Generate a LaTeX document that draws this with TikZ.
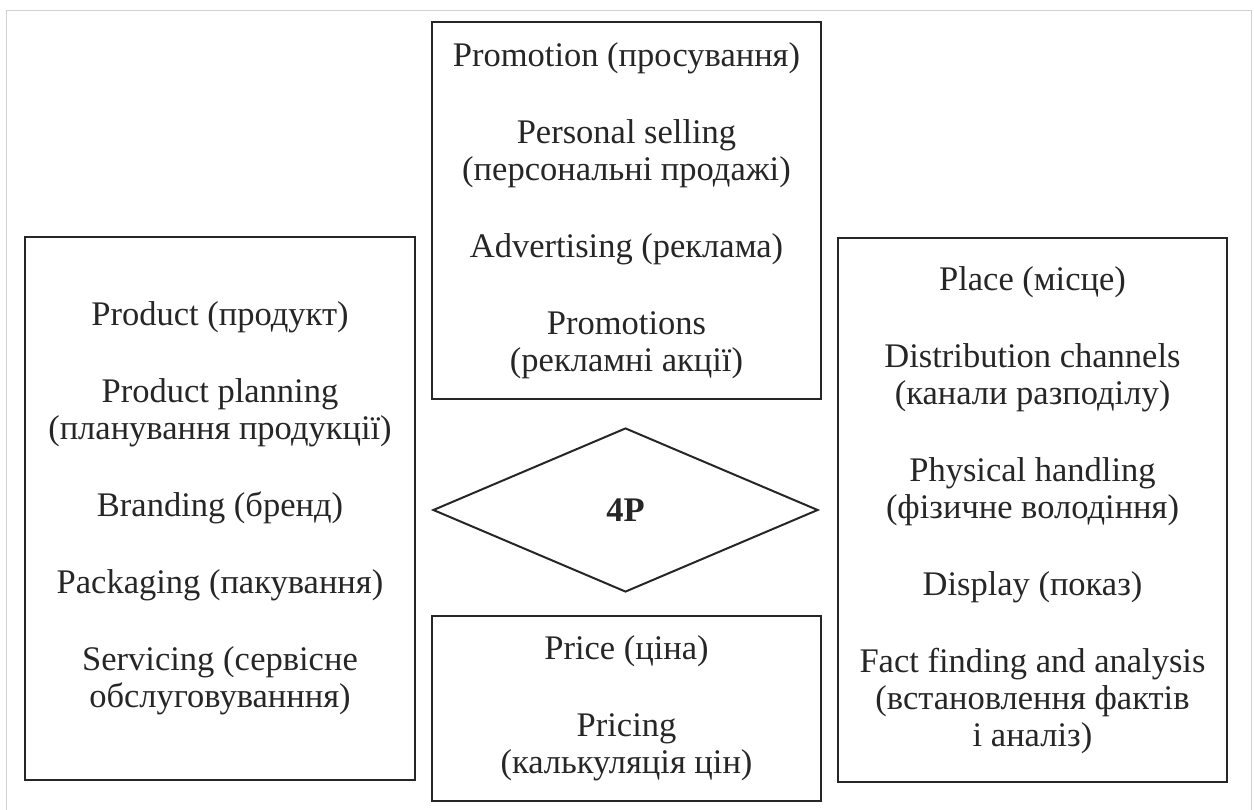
\documentclass[tikz,border=0pt]{standalone}
\usepackage{fontspec}
\setmainfont{Liberation Serif}
\usetikzlibrary{shapes.geometric}
\tikzset{
  pbox/.style={draw=black!85,line width=2.5pt,align=center,inner sep=0pt,
    text=black!85,font=\fontsize{34.5}{37}\selectfont},
  pdiam/.style={draw=black!85,line width=2pt,diamond,inner sep=0pt,
    text=black!85,font=\fontsize{34.5}{37}\selectfont\bfseries}
}
\begin{document}
\begin{tikzpicture}[x=1pt,y=-1pt]
\useasboundingbox (0,0) rectangle (1254,810);
\draw[gray!35,line width=1pt](6,810) -- (6,11) -- (1251,11) -- (1251,810);
\node[pbox,minimum width=389pt,minimum height=377pt] (promotion) at (626.5,210.5)
  {Promotion (просування)\\[40pt]Personal selling\\(персональні продажі)\\[40pt]Advertising (реклама)\\[40pt]Promotions\\(рекламні акції)};
\node[pbox,minimum width=390pt,minimum height=543pt] (product) at (220,508.5)
  {Product (продукт)\\[40pt]Product planning\\(планування продукції)\\[40pt]Branding (бренд)\\[40pt]Packaging (пакування)\\[40pt]Servicing (сервісне\\обслуговуванння)};
\node[pbox,minimum width=389pt,minimum height=544pt] (place) at (1032.5,510)
  {Place (місце)\\[40pt]Distribution channels\\(канали разподілу)\\[40pt]Physical handling\\(фізичне володіння)\\[40pt]Display (показ)\\[40pt]Fact finding and analysis\\(встановлення фактів\\і аналіз)};
\node[pbox,minimum width=389pt,minimum height=185pt] (price) at (626.5,708.5)
  {Price (ціна)\\[40pt]Pricing\\(калькуляція цін)};
\node[pdiam,minimum width=385pt,minimum height=164pt] (fourp) at (625.5,510) {4P};
\end{tikzpicture}
\end{document}
